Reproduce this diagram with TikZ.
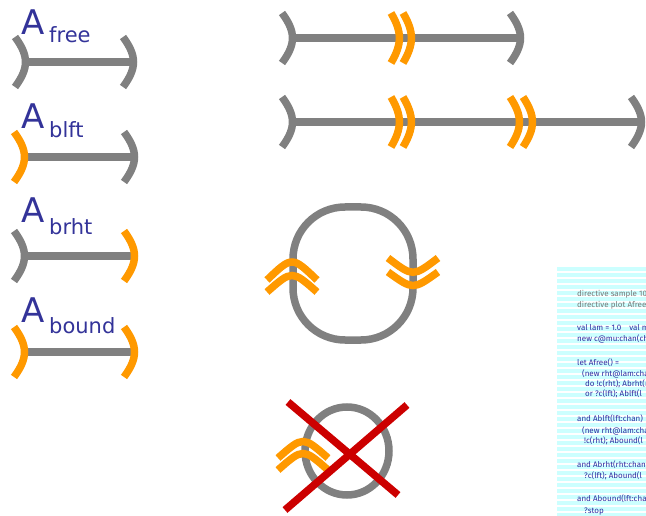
\documentclass[tikz,border=0pt]{standalone}
\usepackage{fontspec}
\setmainfont{Fira Sans}
\newfontfamily\labelfont{DejaVu Sans}
\definecolor{cgray}{RGB}{128,128,128}
\definecolor{corange}{RGB}{255,153,0}
\definecolor{cred}{RGB}{204,0,0}
\definecolor{cstripe}{RGB}{204,255,255}
\definecolor{clabel}{RGB}{51,51,153}
\definecolor{ccode}{RGB}{45,45,160}
\definecolor{ccodegray}{RGB}{120,120,120}
\newcommand\myBrkV[5]{\draw[#5] (#1,#2-25) .. controls (#1+1.4*#3,#2-6) and (#1+1.4*#3,#2+6) .. (#1,#2+25);}
\newcommand\myBrkH[5]{\draw[#5] (#1-25,#2) .. controls (#1,#3) .. (#1+25,#2);}
\tikzset{
  gr/.style={draw=cgray,line width=7.5pt,line cap=butt},
  og/.style={draw=corange,line width=7.5pt,line cap=butt},
  rd/.style={draw=cred,line width=7.5pt,line cap=butt},
  bigA/.style={anchor=base west,inner sep=0pt,text=clabel,font=\labelfont\fontsize{34}{34}\selectfont},
  subA/.style={anchor=base west,inner sep=0pt,text=clabel,font=\labelfont\fontsize{21}{21}\selectfont},
  codeline/.style={anchor=base west,inner sep=0pt,text=ccode,font=\fontsize{8}{8}\selectfont},
  codegray/.style={codeline,text=ccodegray}
}
\begin{document}
\begin{tikzpicture}[x=1pt,y=-1pt]
\useasboundingbox (0,0) rectangle (646,516);
% ---------- left column ----------
% A_free
\draw[gr] (25,62) -- (133,62);
\myBrkV{15}{62}{10}{25}{gr}
\myBrkV{123}{62}{10}{25}{gr}
\node[bigA] (afreeA) at (21,35) {A};
\node[subA] (afreeS) at (49,43) {free};
% A_blft
\draw[gr] (24,157) -- (134,157);
\myBrkV{14}{157}{10}{25}{og}
\myBrkV{124}{157}{10}{25}{gr}
\node[bigA] (ablftA) at (21,129) {A};
\node[subA] (ablftS) at (49,138) {blft};
% A_brht
\draw[gr] (24,256) -- (134,256);
\myBrkV{14}{256}{10}{25}{gr}
\myBrkV{124}{256}{10}{25}{og}
\node[bigA] (abrhtA) at (21,223) {A};
\node[subA] (abrhtS) at (49,235) {brht};
% A_bound
\draw[gr] (24,352) -- (134,352);
\myBrkV{14}{352}{10}{25}{og}
\myBrkV{124}{352}{10}{25}{og}
\node[bigA] (aboundA) at (21,322) {A};
\node[subA] (aboundS) at (49,333) {bound};
% ---------- top right rows ----------
\draw[gr] (292,38) -- (520,38);
\myBrkV{282}{38}{10}{25}{gr}
\myBrkV{510}{38}{10}{25}{gr}
\myBrkV{391}{38}{8}{25}{og}
\myBrkV{403}{38}{8}{25}{og}
\draw[gr] (292,122) -- (641,122);
\myBrkV{282}{122}{10}{25}{gr}
\myBrkV{631}{122}{10}{25}{gr}
\myBrkV{391}{122}{8}{25}{og}
\myBrkV{403}{122}{8}{25}{og}
\myBrkV{510}{122}{9}{25}{og}
\myBrkV{523}{122}{9}{25}{og}
% ---------- loop ----------
\draw[gr,rounded corners=52pt] (293,207) rectangle (413,340);
\myBrkH{292}{280}{256}{}{og}
\myBrkH{292}{292}{270}{}{og}
\myBrkH{413}{258}{277}{}{og}
\myBrkH{413}{272}{290}{}{og}
% ---------- crossed circle ----------
\draw[gr] (347,451) ellipse [x radius=42, y radius=44];
\myBrkH{303}{458}{436}{}{og}
\myBrkH{303}{470}{448}{}{og}
\draw[rd] (288,402) -- (398,495);
\draw[rd] (407,405) -- (285,510);
% ---------- code block ----------
\foreach \i in {0,...,41} {
  \fill[cstripe] (557,267+\i*6) rectangle (646,270.5+\i*6);
}
\begin{scope}
\clip (557,262) rectangle (646,516);
\node[codegray] (c1) at (577,296) {directive sample 100};
\node[codegray] (c2) at (577,307) {directive plot Afree};
\node[codeline] (c3) at (577,330) {val lam = 1.0\quad val mu};
\node[codeline] (c4) at (577,341) {new c@mu:chan(chan};
\node[codeline] (c5) at (577,365) {let Afree() =};
\node[codeline] (c6) at (582,376) {(new rht@lam:chan};
\node[codeline] (c7) at (585,386) {do !c(rht); Abrht(r};
\node[codeline] (c8) at (585,396) {or ?c(lft); Ablft(l};
\node[codeline] (c9) at (577,421) {and Ablft(lft:chan)};
\node[codeline] (c10) at (582,433) {(new rht@lam:chan};
\node[codeline] (c11) at (584,443) {!c(rht); Abound(l};
\node[codeline] (c12) at (577,467) {and Abrht(rht:chan};
\node[codeline] (c13) at (584,478) {?c(lft); Abound(l};
\node[codeline] (c14) at (577,501) {and Abound(lft:chan};
\node[codeline] (c15) at (584,513) {?stop};
\end{scope}
\end{tikzpicture}
\end{document}
